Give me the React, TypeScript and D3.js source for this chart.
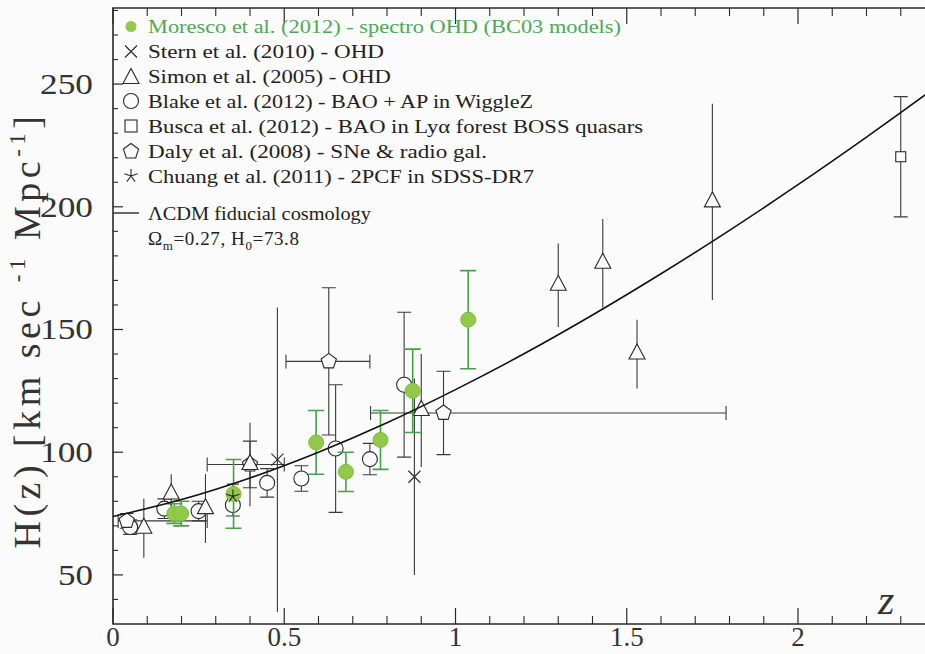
import React from 'react';
import * as d3 from 'd3';

// H(z) compilation

// Moresco et al. (2012) green filled circles
const morescoZ = [0.179, 0.199, 0.352, 0.593, 0.68, 0.781, 0.875, 1.037];
const morescoH = [75, 75, 83, 104, 92, 105, 125, 154];
const morescoErr = [4, 5, 14, 13, 8, 12, 17, 20];

// Stern et al. (2010) crosses
const sternZ = [0.48, 0.88];
const sternH = [97, 90];
const sternErr = [62, 40];

// Simon et al. (2005) triangles
const simonZ = [0.09, 0.17, 0.27, 0.4, 0.9, 1.3, 1.43, 1.53, 1.75];
const simonH = [69, 83, 77, 95, 117, 168, 177, 140, 202];
const simonErr = [12, 8, 14, 17, 23, 17, 18, 14, 40];

// Blake et al. (2012) open circles
const blakeZ = [0.05, 0.15, 0.25, 0.35, 0.45, 0.55, 0.65, 0.75, 0.85];
const blakeH = [69.5, 77, 76, 78.5, 87.5, 89.3, 101.5, 97.2, 127.5];
const blakeErr = [3, 4, 4, 4.5, 5.8, 5.2, 26, 6.4, 29.5];

// Busca et al. (2012) square
const buscaZ = [2.3];
const buscaH = [220.4];
const buscaErr = [24.5];

// Daly et al. (2008) pentagons, with redshift bins
const dalyZ = [0.04, 0.4, 0.63, 0.965];
const dalyH = [72, 95, 137, 116];
const dalyErr = [3, 9.5, 30, 17];
const dalyZlo = [0.015, 0.275, 0.505, 0.752];
const dalyZhi = [0.275, 0.5, 0.75, 1.79];

// Chuang et al. (2011) asterisk
const chuangZ = [0.35];
const chuangH = [82];
const chuangErr = [5];

// LCDM fiducial curve
const modelZ = [0, 0.2, 0.4, 0.6, 0.8, 1.0, 1.2, 1.4, 1.6, 1.8, 2.0, 2.2, 2.4, 2.5];
const modelH = [73.8, 80.7, 89.5, 100.0, 112.0, 125.5, 140.1, 155.9, 172.7, 190.4, 209.0, 228.4, 248.5, 258.9];

const xMajor = [0, 0.5, 1, 1.5, 2];
const xMajorLabels = ['0', '0.5', '1', '1.5', '2'];
const yMajor = [50, 100, 150, 200, 250];

const legendLabels = [
  'Moresco et al. (2012) - spectro OHD (BC03 models)',
  'Stern et al. (2010) - OHD',
  'Simon et al. (2005) - OHD',
  'Blake et al. (2012) - BAO + AP in WiggleZ',
  'Busca et al. (2012) - BAO in Ly\u03b1 forest BOSS quasars',
  'Daly et al. (2008) - SNe & radio gal.',
  'Chuang et al. (2011) - 2PCF in SDSS-DR7',
];
const legendWidths = [473, 236, 243, 385, 495, 339, 386];

const W = 925;
const H = 654;
const INK = '#2a2a2a';
const GREEN = '#46a24a';
const GREEN_FILL = '#92c94a';

const x = d3.scaleLinear().domain([0, 2.45]).range([113, 113 + 2.45 * 342.5]);
const y = d3.scaleLinear().domain([30, 281]).range([624, 8]);

type Mark = (cx: number, cy: number, key: string) => React.ReactNode;

const circleMark: Mark = (cx, cy, key) => (
  <circle key={key} cx={cx} cy={cy} r={7.5} fill="#fbfbfb" stroke={INK} strokeWidth={1.1} />
);
const greenMark: Mark = (cx, cy, key) => (
  <circle key={key} cx={cx} cy={cy} r={7.5} fill={GREEN_FILL} stroke="#7cbf45" strokeWidth={1} />
);
const crossMark: Mark = (cx, cy, key) => (
  <path key={key} d={`M${cx - 6},${cy - 6}L${cx + 6},${cy + 6}M${cx - 6},${cy + 6}L${cx + 6},${cy - 6}`}
    stroke={INK} strokeWidth={1.1} fill="none" />
);
const triMark: Mark = (cx, cy, key) => (
  <path key={key} d={`M${cx},${cy - 10}L${cx + 8},${cy + 5}L${cx - 8},${cy + 5}Z`}
    stroke={INK} strokeWidth={1.1} fill="#fbfbfb" />
);
const squareMark: Mark = (cx, cy, key, s = 5) => (
  <rect key={key} x={cx - s} y={cy - s} width={2 * s} height={2 * s} stroke={INK} strokeWidth={1.1} fill="#fbfbfb" />
);
const pentMark: Mark = (cx, cy, key) => {
  const pts = d3.range(5).map(i => {
    const a = -Math.PI / 2 + (i * 2 * Math.PI) / 5;
    return `${cx + 8 * Math.cos(a)},${cy + 8 * Math.sin(a)}`;
  });
  return <polygon key={key} points={pts.join(' ')} stroke={INK} strokeWidth={1.1} fill="#fbfbfb" />;
};
const starMark: Mark = (cx, cy, key) => {
  const d = d3.range(5).map(i => {
    const a = -Math.PI / 2 + (i * 2 * Math.PI) / 5;
    return `M${cx},${cy}L${cx + 7 * Math.cos(a)},${cy + 7 * Math.sin(a)}`;
  }).join('');
  return <path key={key} d={d} stroke={INK} strokeWidth={1.1} fill="none" />;
};

function yBars(zs: number[], hs: number[], es: number[], cap: number, color: string, width: number, key: string) {
  return zs.map((z, i) => {
    const cx = x(z);
    const y1 = y(hs[i] + es[i]);
    const y2 = y(hs[i] - es[i]);
    let d = `M${cx},${y1}L${cx},${y2}`;
    if (cap > 0) d += `M${cx - cap},${y1}L${cx + cap},${y1}M${cx - cap},${y2}L${cx + cap},${y2}`;
    return <path key={`${key}${i}`} d={d} stroke={color} strokeWidth={width} fill="none" />;
  });
}

export default function App() {
  const line = d3.line<number>()
    .x((_, i) => x(modelZ[i]))
    .y(h => y(h))
    .curve(d3.curveCatmullRom);

  const xMinor = d3.range(1, 25).map(i => i / 10).filter(v => !xMajor.some(m => Math.abs(m - v) < 1e-6));
  const yMinor = d3.range(40, 290, 10).filter(v => v % 50 !== 0 && v < 281);
  const x0 = x(0);
  const yBase = y(30);
  const yTop = y(281);

  // row centres of the legend
  const legendY = [26.5, 51.5, 76.5, 101, 126, 151.5, 176];
  const legendMarks: React.ReactNode[] = [
    <circle key="lg0" cx={131} cy={legendY[0]} r={5.5} fill={GREEN_FILL} />,
    crossMark(131, legendY[1], 'lg1'),
    triMark(131, legendY[2] + 2, 'lg2'),
    circleMark(131, legendY[3], 'lg3'),
    <rect key="lg4" x={125} y={legendY[4] - 6} width={12} height={12} stroke={INK} strokeWidth={1.1} fill="none" />,
    pentMark(131, legendY[5], 'lg5'),
    starMark(131, legendY[6], 'lg6'),
  ];

  return (
    <svg width={W} height={H} style={{ position: 'absolute', left: 0, top: 0, background: '#fbfbfb' }}
      fontFamily="'Liberation Serif', serif">
      <defs>
        <clipPath id="plot">
          <rect x={x0} y={yTop} width={W - x0} height={yBase - yTop} />
        </clipPath>
      </defs>

      {/* frame */}
      <path d={`M${W + 5},${yTop}L${x0},${yTop}L${x0},${yBase}L${W + 5},${yBase}`} fill="none" stroke={INK} strokeWidth={1.6} />

      {/* x ticks, bottom and top */}
      {xMajor.map(v => (
        <g key={`xM${v}`}>
          <line x1={x(v)} x2={x(v)} y1={yBase} y2={yBase - 16} stroke={INK} strokeWidth={1.2} />
          <line x1={x(v)} x2={x(v)} y1={yTop} y2={yTop + 16} stroke={INK} strokeWidth={1.2} />
        </g>
      ))}
      {xMinor.map(v => (
        <g key={`xm${v}`}>
          <line x1={x(v)} x2={x(v)} y1={yBase} y2={yBase - 8} stroke={INK} strokeWidth={1.1} />
          <line x1={x(v)} x2={x(v)} y1={yTop} y2={yTop + 8} stroke={INK} strokeWidth={1.1} />
        </g>
      ))}
      {xMajor.map((v, i) => (
        <text key={`xl${v}`} x={x(v)} y={646} textAnchor="middle" fontSize={27} fill="#333">{xMajorLabels[i]}</text>
      ))}

      {/* y ticks */}
      {yMajor.map(v => (
        <g key={`yM${v}`}>
          <line x1={x0} x2={x0 + 10} y1={y(v)} y2={y(v)} stroke={INK} strokeWidth={1.2} />
          <text x={93} y={y(v) + 10} textAnchor="end" fontSize={29} fill="#333"
            textLength={String(v).length === 3 ? 53 : 35} lengthAdjust="spacingAndGlyphs">{v}</text>
        </g>
      ))}
      {yMinor.map(v => (
        <line key={`ym${v}`} x1={x0} x2={x0 + 5} y1={y(v)} y2={y(v)} stroke={INK} strokeWidth={1.1} />
      ))}

      {/* y label */}
      <text transform="translate(40,330) rotate(-90)" textAnchor="middle" fontSize={38} letterSpacing={4.5} fill="#333">
        H(z) [km sec <tspan dy={-15} fontSize={23}>-1</tspan><tspan dy={15}> Mpc</tspan>
        <tspan dy={-15} fontSize={23}>-1</tspan><tspan dy={15}>]</tspan>
      </text>

      {/* z label */}
      <text x={878} y={614} fontSize={42} fontStyle="italic" fill="#333">z</text>

      {/* legend */}
      {legendMarks}
      {legendLabels.map((t, i) => (
        <text key={`lt${i}`} x={148} y={legendY[i] + 6.5} fontSize={19} fill={i === 0 ? '#4ea955' : '#222'}
          textLength={legendWidths[i]} lengthAdjust="spacingAndGlyphs">{t}</text>
      ))}
      <line x1={113} x2={139} y1={213} y2={213} stroke={INK} strokeWidth={1.4} />
      <text x={148} y={219.5} fontSize={19} fill="#222" textLength={223} lengthAdjust="spacingAndGlyphs">
        {'\u039bCDM fiducial cosmology'}
      </text>
      <text x={148} y={244.5} fontSize={19} fill="#222" letterSpacing={0.6}>
        {'\u03a9'}<tspan dy={5} fontSize={13}>m</tspan><tspan dy={-5}>=0.27, H</tspan>
        <tspan dy={5} fontSize={13}>0</tspan><tspan dy={-5}>=73.8</tspan>
      </text>

      <g clipPath="url(#plot)">
        {/* horizontal bins for Daly */}
        {dalyZ.map((z, i) => {
          const cy = y(dalyH[i]);
          const a = x(dalyZlo[i]);
          const b = x(dalyZhi[i]);
          return (
            <path key={`dh${i}`} d={`M${a},${cy}L${b},${cy}M${a},${cy - 7}L${a},${cy + 7}M${b},${cy - 7}L${b},${cy + 7}`}
              stroke="#3a3a3a" strokeWidth={1.1} fill="none" />
          );
        })}
        {yBars(dalyZ, dalyH, dalyErr, 7, '#3a3a3a', 1.1, 'dv')}
        {yBars(sternZ, sternH, sternErr, 0, '#3a3a3a', 1.1, 'sv')}
        {yBars(simonZ, simonH, simonErr, 0, '#3a3a3a', 1.1, 'tv')}
        {yBars(blakeZ, blakeH, blakeErr, 7, '#3a3a3a', 1.1, 'bv')}
        {yBars(buscaZ, buscaH, buscaErr, 7, '#3a3a3a', 1.1, 'qv')}
        {yBars(chuangZ, chuangH, chuangErr, 6, '#3a3a3a', 1.1, 'cv')}

        {blakeZ.map((z, i) => circleMark(x(z), y(blakeH[i]), `b${i}`))}
        {dalyZ.map((z, i) => pentMark(x(z), y(dalyH[i]), `d${i}`))}
        {simonZ.map((z, i) => triMark(x(z), y(simonH[i]), `t${i}`))}
        {buscaZ.map((z, i) => squareMark(x(z), y(buscaH[i]), `q${i}`))}
        {sternZ.map((z, i) => crossMark(x(z), y(sternH[i]), `s${i}`))}

        {yBars(morescoZ, morescoH, morescoErr, 8, GREEN, 1.6, 'mv')}
        {morescoZ.map((z, i) => greenMark(x(z), y(morescoH[i]), `m${i}`))}
        {chuangZ.map((z, i) => starMark(x(z), y(chuangH[i]), `c${i}`))}

        <path d={line(modelH) || ''} fill="none" stroke="#111" strokeWidth={1.6} />
      </g>
    </svg>
  );
}
